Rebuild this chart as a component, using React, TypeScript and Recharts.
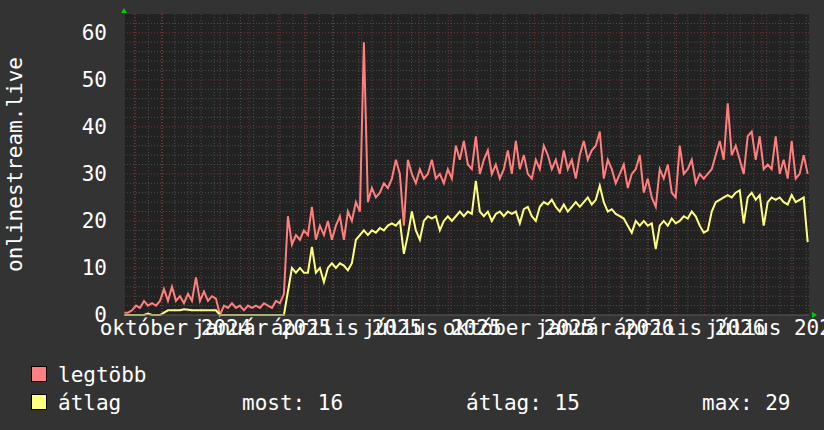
import React from 'react';
import { LineChart, Line, XAxis, YAxis, ReferenceLine, ReferenceDot, CartesianGrid } from 'recharts';

// legtöbb (max) and átlag (avg), one sample every ~4.26 days from 2024-08-21
const maxSeries = [
  0.5, 0.5, 1, 2, 1.5, 3, 2, 2.5, 2, 3,
  5.5, 3, 6, 3, 4, 2.5, 4.5, 3, 8, 3,
  5, 3, 4, 3.5, 0, 2, 1.5, 2.5, 1.5, 2,
  1, 2, 1.5, 2, 1.5, 2.5, 2, 1.5, 3, 2.5,
  4.5, 21, 15, 17, 16, 18, 17, 23, 16, 19,
  17, 20, 16, 19, 21, 16, 22, 20, 24, 22,
  58, 24, 27, 25, 26, 28, 27, 29, 33, 30,
  19, 33, 30, 28, 31, 29, 30, 33, 29, 30,
  28, 31, 29, 36, 33, 37, 32, 31, 38, 30,
  33, 35, 30, 32, 29, 31, 35, 30, 37, 31,
  34, 30, 29, 33, 31, 36, 34, 31, 33, 30,
  35, 31, 33, 29, 34, 37, 33, 35, 36, 39,
  29, 33, 31, 28, 30, 32, 27, 30, 31, 34,
  26, 29, 25, 23, 31, 29, 32, 26, 25, 36,
  30, 31, 33, 28, 30, 29, 30, 31, 34, 37,
  33, 45, 34, 36, 33, 30, 38, 39, 33, 38,
  31, 32, 31, 38, 30, 33, 29, 37, 29, 30,
  34, 30,
];

const avgSeries = [
  0, 0, 0, 0, 0, 0, 0.3, 0, 0, 0,
  0.5, 1, 1, 1, 1, 1.2, 1.1, 1, 1, 1,
  1, 1, 1, 1, 0, 0, 0, 0, 0, 0,
  0, 0, 0, 0, 0, 0, 0, 0, 0, 0,
  0, 5, 10, 9, 10, 9, 9, 14.5, 9, 10,
  7, 10, 11, 10, 11, 10.5, 9.5, 11, 16, 17,
  18, 17, 18, 17.5, 18.5, 18, 19, 19.5, 19, 20,
  13, 17, 22, 18, 16, 20, 21, 20.5, 21, 18,
  20, 21, 20, 21, 22, 21, 22, 21.5, 28.5, 22,
  21, 22, 20, 21.5, 22, 21, 22, 21.5, 22, 19.5,
  22.5, 23, 21, 20, 23, 24, 23.5, 24.5, 23, 22,
  23.5, 22, 23, 24, 23, 24, 25, 23.5, 24.5, 27.5,
  24, 22, 22.5, 21.5, 21, 20.5, 19, 17.5, 20, 19,
  20, 19, 19.5, 14, 19, 20, 19, 20.5, 19.5, 20,
  21, 20.5, 22, 21, 19, 17.5, 18, 22, 24, 24.5,
  25, 25.5, 25, 26, 26.5, 19.5, 25, 26, 24.5, 25.5,
  19, 24, 25, 24.5, 25, 24, 23.5, 25.5, 24, 24.5,
  25, 15.5,
];

const labelMonths: [number, number][] = [
  [2024, 9], [2025, 0], [2025, 3], [2025, 6], [2025, 9], [2026, 0], [2026, 3], [2026, 6],
];
const labelTexts = [
  'október 2024', 'január 2025', 'április 2025', 'július 2025',
  'október 2025', 'január 2026', 'április 2026', 'július 2026',
];
const yTicks = [0, 10, 20, 30, 40, 50, 60];
const legendStats = ['most: 16', 'átlag: 15', 'max: 29'];

const START = Date.UTC(2024, 7, 21);
const SPAN_DAYS = 729;
const STEP_DAYS = 4.255;
const DAY = 86400000;
const dayOf = (y: number, m: number, d = 1) => (Date.UTC(y, m, d) - START) / DAY;

const data = maxSeries.map((v, i) => ({ day: i * STEP_DAYS, max: v, avg: avgSeries[i] }));

const labelDays = labelMonths.map(([y, m]) => dayOf(y, m));

const monthDays: number[] = [];
for (let y = 2024, m = 8; dayOf(y, m) < SPAN_DAYS; m++) {
  if (m > 11) { m = 0; y++; }
  monthDays.push(dayOf(y, m));
}
const weekDays: number[] = [];
for (let d = 12; d < SPAN_DAYS; d += 14) weekDays.push(d);
const minorY: number[] = [];
for (let v = 2; v < 64; v += 2) if (v % 10 !== 0) minorY.push(v);

const FONT = '"DejaVu Sans Mono", monospace';
const MINOR = '#4d4d4d';
const MAJOR = '#7a3434';
const RED = '#ff7f7f';
const YELLOW = '#ffff7f';

const XTick = ({ x, y, payload }: any) => {
  const idx = labelDays.findIndex((d) => Math.abs(d - payload.value) < 0.01);
  return (
    <text x={x + 13} y={y + 20} textAnchor="middle" fill="#fff" fontSize={21} fontFamily={FONT}>
      {labelTexts[idx]}
    </text>
  );
};

export default function App() {
  return (
    <div style={{ position: 'absolute', left: 0, top: 0, width: 824, height: 430, background: '#333333', overflow: 'hidden' }}>
      <LineChart width={824} height={430} data={data} margin={{ top: 14, right: 15, left: 0, bottom: 0 }}>
        <CartesianGrid horizontal={false} vertical={false} fill="#222222" fillOpacity={1} />
        {weekDays.map((d) => (
          <ReferenceLine key={'w' + d} x={d} stroke={MINOR} strokeDasharray="1 2" />
        ))}
        {minorY.map((v) => (
          <ReferenceLine key={'h' + v} y={v} stroke={MINOR} strokeDasharray="1 2" />
        ))}
        {monthDays.map((d) => (
          <ReferenceLine key={'m' + d} x={d} stroke={MAJOR} strokeDasharray="1 2" />
        ))}
        {yTicks.slice(1).map((v) => (
          <ReferenceLine key={'M' + v} y={v} stroke={MAJOR} strokeDasharray="1 2" />
        ))}
        <XAxis
          dataKey="day"
          type="number"
          domain={[0, SPAN_DAYS]}
          ticks={labelDays}
          interval={0}
          tick={<XTick />}
          tickLine={false}
          tickSize={0}
          tickMargin={0}
          axisLine={{ stroke: '#5a5a5a' }}
          height={115}
          allowDataOverflow
        />
        <YAxis
          type="number"
          domain={[0, 64]}
          ticks={yTicks}
          width={124}
          tickLine={false}
          tickSize={0}
          tickMargin={17}
          axisLine={{ stroke: '#3a3a3a' }}
          tick={{ fill: '#fff', fontSize: 21, fontFamily: FONT }}
          label={{
            content: ({ viewBox }: any) => {
              const cy = viewBox.y + viewBox.height / 2;
              return (
                <text x={22} y={cy} transform={`rotate(-90 22 ${cy})`} textAnchor="middle" fill="#fff" fontSize={21} fontFamily={FONT}>
                  onlinestream.live
                </text>
              );
            },
          }}
        />
        <Line type="linear" dataKey="max" stroke={RED} strokeWidth={2} dot={false} isAnimationActive={false} />
        <Line type="linear" dataKey="avg" stroke={YELLOW} strokeWidth={2} dot={false} isAnimationActive={false} />
        <ReferenceDot
          x={0}
          y={64}
          ifOverflow="visible"
          shape={(p: any) => (
            <polygon points={`${p.cx - 3},${p.cy - 1} ${p.cx + 3},${p.cy - 1} ${p.cx},${p.cy - 6}`} fill="#00cc00" />
          )}
        />
        <ReferenceDot
          x={SPAN_DAYS}
          y={0}
          ifOverflow="visible"
          shape={(p: any) => (
            <polygon points={`${p.cx + 3},${p.cy - 3} ${p.cx + 3},${p.cy + 3} ${p.cx + 8},${p.cy}`} fill="#00cc00" />
          )}
        />
      </LineChart>
      <svg width={824} height={430} style={{ position: 'absolute', left: 0, top: 0, pointerEvents: 'none' }}>
        <rect x={31.5} y={366.5} width={15} height={15} fill="#ff8080" stroke="#000" />
        <rect x={31.5} y={394.5} width={15} height={15} fill="#ffff80" stroke="#000" />
        <g fill="#fff" fontSize={21} fontFamily={FONT}>
          <text x={58} y={382}>legtöbb</text>
          <text x={58} y={410}>átlag</text>
          <text x={242} y={410}>{legendStats[0]}</text>
          <text x={466} y={410}>{legendStats[1]}</text>
          <text x={702} y={410}>{legendStats[2]}</text>
        </g>
      </svg>
    </div>
  );
}
